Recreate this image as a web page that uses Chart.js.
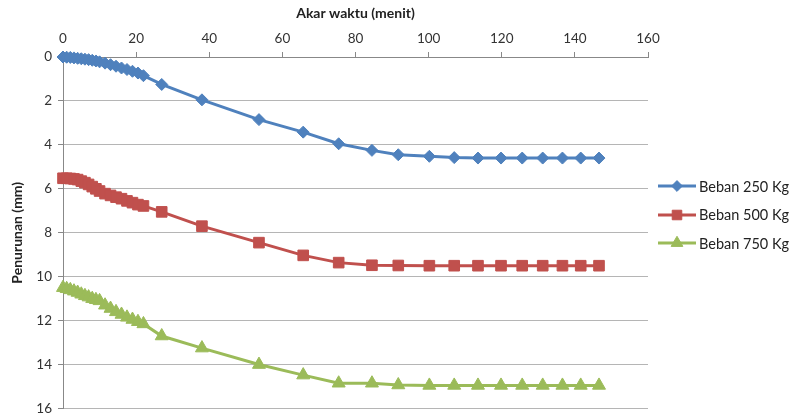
<!DOCTYPE html>
<html>
<head>
<meta charset="utf-8">
<script src="https://cdn.jsdelivr.net/npm/chart.js@4.4.1/dist/chart.umd.min.js"></script>
<style>
  body { margin: 0; background: #fff; }
  #wrap { position: relative; width: 790px; height: 417px; }
  #legend { position: absolute; left: 658px; top: 172px; font-family: Lato, sans-serif; font-size: 14.5px; color: #222; }
  .row { height: 28.5px; display: flex; align-items: center; white-space: nowrap; }
  .row canvas { margin-right: 3px; }
</style>
</head>
<body>
<div id="wrap">
  <canvas id="chart" width="790" height="417"></canvas>
  <div id="legend"></div>
</div>
<script>
// akar waktu (menit)
const akarWaktu = [0, 1, 2, 3, 4, 5, 6, 7, 8, 9, 10, 11.5, 13, 14.5, 16, 17.5, 19, 20.5, 22,
    27, 38, 53.6, 65.7, 75.4, 84.5, 91.7, 100.2, 107, 113.5, 119.8, 125.6, 131.2, 136.6, 141.6, 146.6];

// penurunan (mm)
const beban250 = [0, 0.01, 0.02, 0.04, 0.06, 0.08, 0.1, 0.12, 0.15, 0.18, 0.22, 0.28, 0.35, 0.42, 0.5, 0.57, 0.65, 0.73, 0.85,
    1.25, 1.95, 2.85, 3.42, 3.95, 4.25, 4.45, 4.52, 4.58, 4.6, 4.6, 4.6, 4.6, 4.6, 4.6, 4.6];
const beban500 = [5.52, 5.52, 5.53, 5.55, 5.58, 5.65, 5.72, 5.8, 5.9, 6.0, 6.1, 6.22, 6.3, 6.38, 6.45, 6.55, 6.63, 6.72, 6.78,
    7.05, 7.7, 8.45, 9.03, 9.36, 9.48, 9.49, 9.5, 9.5, 9.5, 9.5, 9.5, 9.5, 9.5, 9.5, 9.5];
const beban750 = [10.5, 10.55, 10.6, 10.66, 10.72, 10.8, 10.87, 10.93, 11.0, 11.05, 11.1, 11.3, 11.45, 11.6, 11.72, 11.85, 11.95, 12.05, 12.15,
    12.7, 13.25, 14.0, 14.48, 14.85, 14.85, 14.93, 14.95, 14.95, 14.95, 14.95, 14.95, 14.95, 14.95, 14.95, 14.95];

const seriesNames = ['Beban 250 Kg', 'Beban 500 Kg', 'Beban 750 Kg'];
const seriesData = [beban250, beban500, beban750];
const colors = ['#4F81BD', '#C0504D', '#9BBB59'];
const markers = ['rectRot', 'rect', 'triangle'];
const markerSize = [6, 7.5, 7.5];

const xTicks = [0, 20, 40, 60, 80, 100, 120, 140, 160];
const yTicks = [0, 2, 4, 6, 8, 10, 12, 14, 16];

const FONT = 'Lato, sans-serif';

function toPoints(ys) {
    return ys.map((y, i) => ({ x: akarWaktu[i], y: y }));
}

const datasets = seriesNames.map((name, i) => ({
    label: name,
    data: toPoints(seriesData[i]),
    borderColor: colors[i],
    backgroundColor: colors[i],
    borderWidth: 3,
    pointStyle: markers[i],
    pointRadius: markerSize[i],
    pointHoverRadius: markerSize[i],
    pointBorderWidth: 1,
    tension: 0,
    clip: false
}));

const ctx = document.getElementById('chart').getContext('2d');
const chart = new Chart(ctx, {
    type: 'line',
    data: { datasets: datasets },
    options: {
        responsive: false,
        animation: false,
        layout: { padding: { left: 0, right: 142, top: 0, bottom: 8 } },
        plugins: {
            legend: { display: false },
            tooltip: { enabled: false }
        },
        scales: {
            x: {
                type: 'linear',
                position: 'top',
                min: 0,
                max: 160,
                afterBuildTicks: s => { s.ticks = xTicks.map(v => ({ value: v })); },
                afterFit: s => { s.height = 57; s.paddingLeft = 0; s.paddingRight = 0; },
                ticks: { color: '#333', font: { family: FONT, size: 13.5 }, padding: 5, maxRotation: 0 },
                grid: { drawOnChartArea: false, drawTicks: true, tickLength: 5, color: '#888' },
                border: { color: '#888' },
                title: {
                    display: true, text: 'Akar waktu (menit)', color: '#222',
                    font: { family: FONT, size: 14, weight: 'bold' }, padding: { top: 5, bottom: 4 }
                }
            },
            y: {
                type: 'linear',
                reverse: true,
                min: 0,
                max: 16,
                afterBuildTicks: s => { s.ticks = yTicks.map(v => ({ value: v })); },
                afterFit: s => { s.width = 63; s.paddingTop = 0; s.paddingBottom = 0; },
                ticks: { color: '#333', font: { family: FONT, size: 13.5 }, padding: 6 },
                grid: { color: '#b5b5b5', tickLength: 5, tickColor: '#888' },
                border: { color: '#888' },
                title: {
                    display: true, text: 'Penurunan (mm)', color: '#222',
                    font: { family: FONT, size: 14, weight: 'bold' }, padding: { top: 9, bottom: 2 }
                }
            }
        }
    }
});

// legend with line + marker swatches
const legend = document.getElementById('legend');
seriesNames.forEach((name, i) => {
    const row = document.createElement('div');
    row.className = 'row';
    const sw = document.createElement('canvas');
    sw.width = 38; sw.height = 16;
    const c = sw.getContext('2d');
    c.strokeStyle = colors[i];
    c.lineWidth = 3;
    c.beginPath(); c.moveTo(0, 8); c.lineTo(38, 8); c.stroke();
    c.fillStyle = colors[i];
    c.strokeStyle = colors[i];
    c.lineWidth = 1;
    Chart.helpers.drawPoint(c, { pointStyle: markers[i], radius: markerSize[i] * 0.9, rotation: 0, borderWidth: 1 }, 19, 8);
    row.appendChild(sw);
    const t = document.createElement('span');
    t.textContent = name;
    row.appendChild(t);
    legend.appendChild(row);
});
</script>
</body>
</html>
